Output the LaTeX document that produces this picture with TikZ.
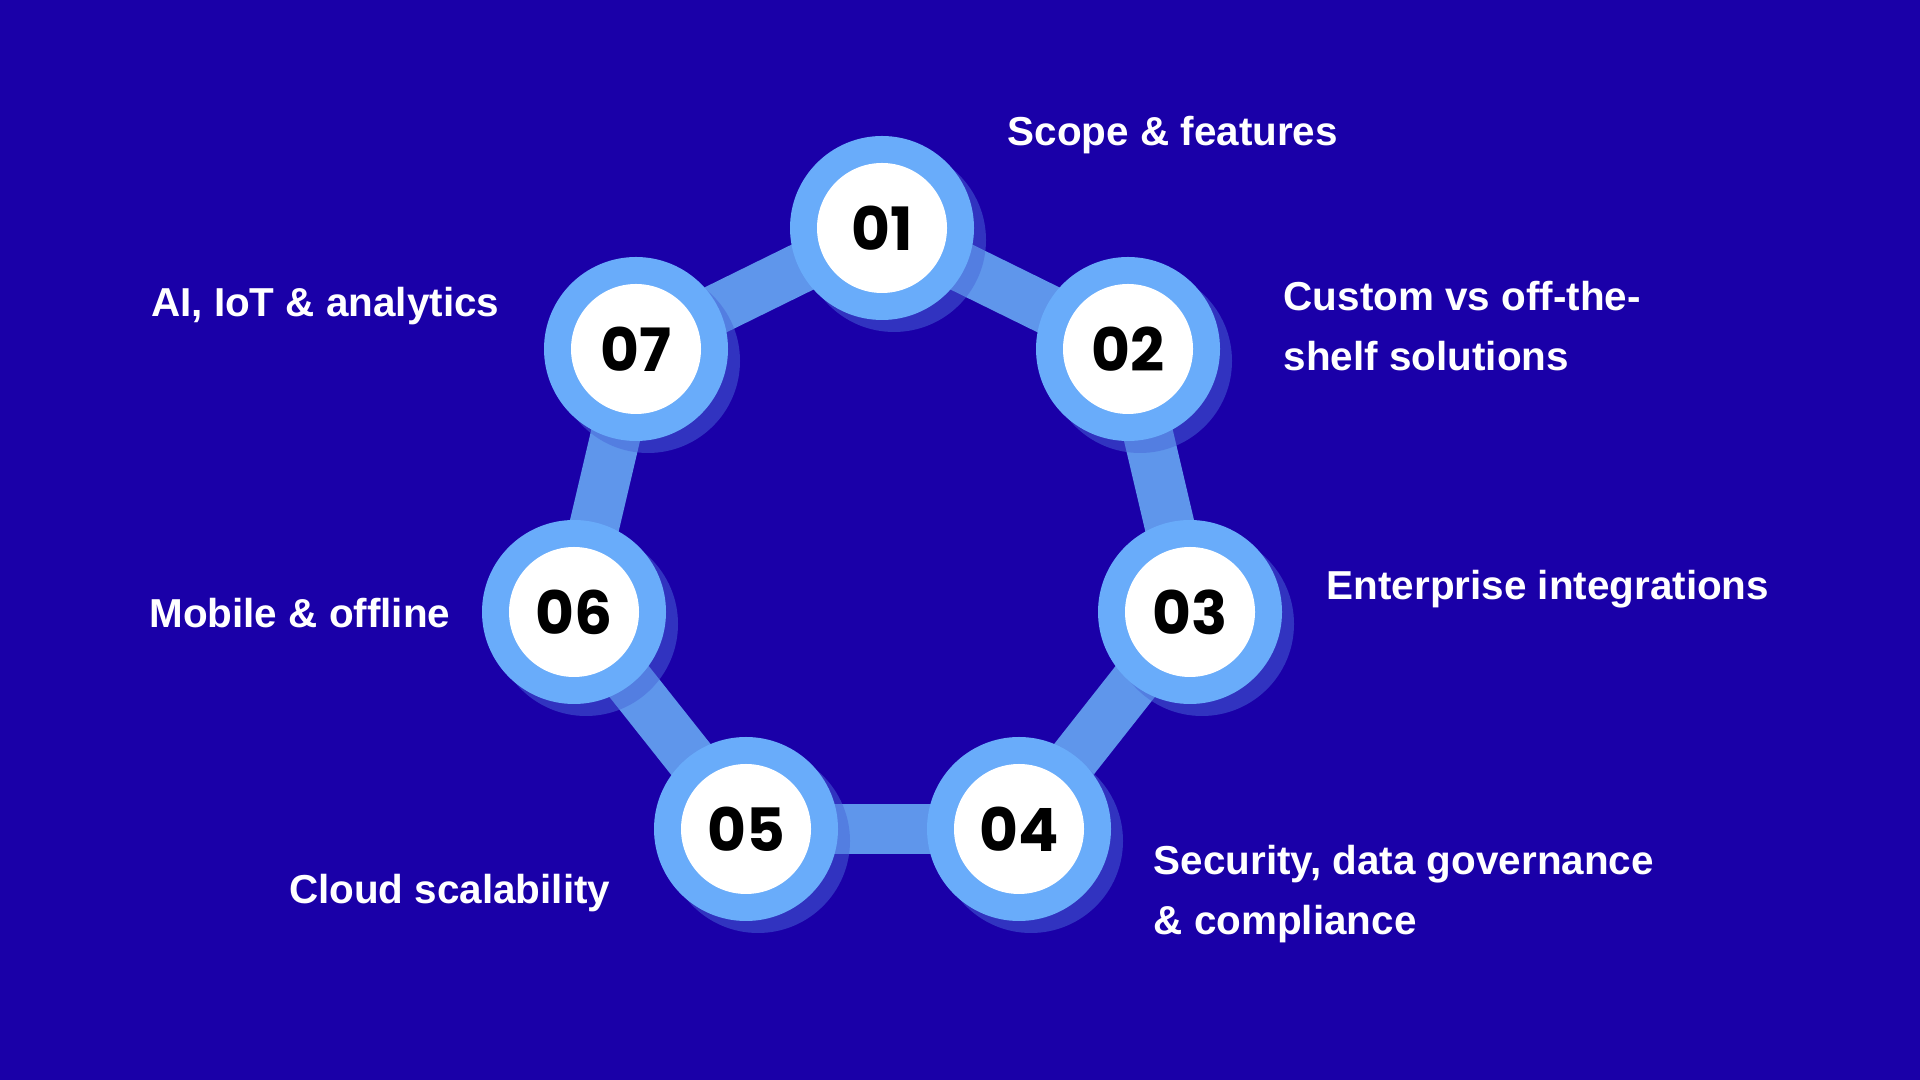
\documentclass[tikz,border=0pt]{standalone}
\usepackage{fontspec}
\setmainfont{Liberation Sans}
\newfontfamily\numfont{Poppins}
\usetikzlibrary{backgrounds,shadows}
\definecolor{bgblue}{RGB}{26,0,168}
\definecolor{ringblue}{RGB}{105,172,250}
\definecolor{barblue}{RGB}{95,150,235}
\tikzset{
  ring/.style={circle, minimum size=1.84cm, inner sep=0pt, fill=ringblue,
    drop shadow={shadow xshift=0.12cm, shadow yshift=-0.12cm, fill=ringblue!60!bgblue, opacity=0.5}},
  num/.style={circle, minimum size=1.3cm, inner sep=0pt, fill=white,
    font=\numfont\bfseries\fontsize{17}{17}\selectfont, text=black},
  bar/.style={line width=0.5cm, barblue},
  label/.style={font=\bfseries\fontsize{11.5}{17}\selectfont, text=white, align=left, inner sep=0pt}
}
\begin{document}
\begin{tikzpicture}
  \useasboundingbox (0,0) rectangle (19.2,10.8);

  % rings with numbers
  \foreach \i/\x/\y in {1/8.82/8.52, 2/11.28/7.31, 3/11.90/4.68, 4/10.19/2.51,
                        5/7.46/2.51, 6/5.74/4.68, 7/6.36/7.31} {
    \node[ring] (r\i) at (\x,\y) {};
    \node[num] (n\i) at (r\i) {0\i};
  }

  % background and connecting bars
  \begin{scope}[on background layer]
    \fill[bgblue] (0,0) rectangle (19.2,10.8);
    \foreach \a/\b in {1/2, 2/3, 3/4, 4/5, 5/6, 6/7, 7/1}
      \draw[bar] (r\a.center) -- (r\b.center);
  \end{scope}

  % labels
  \node[label, anchor=west] (l1) at (10.07,9.45) {Scope \& features};
  \node[label, anchor=west] (l2) at (12.83,7.54) {Custom vs off-the-\\shelf solutions};
  \node[label, anchor=west] (l3) at (13.26,4.91) {Enterprise integrations};
  \node[label, anchor=west] (l4) at (11.53,1.86) {Security, data governance\\\& compliance};
  \node[label, anchor=east] (l5) at (6.11,1.87) {Cloud scalability};
  \node[label, anchor=east] (l6) at (4.51,4.67) {Mobile \& offline};
  \node[label, anchor=east] (l7) at (5.0,7.74) {AI, IoT \& analytics};
\end{tikzpicture}
\end{document}
